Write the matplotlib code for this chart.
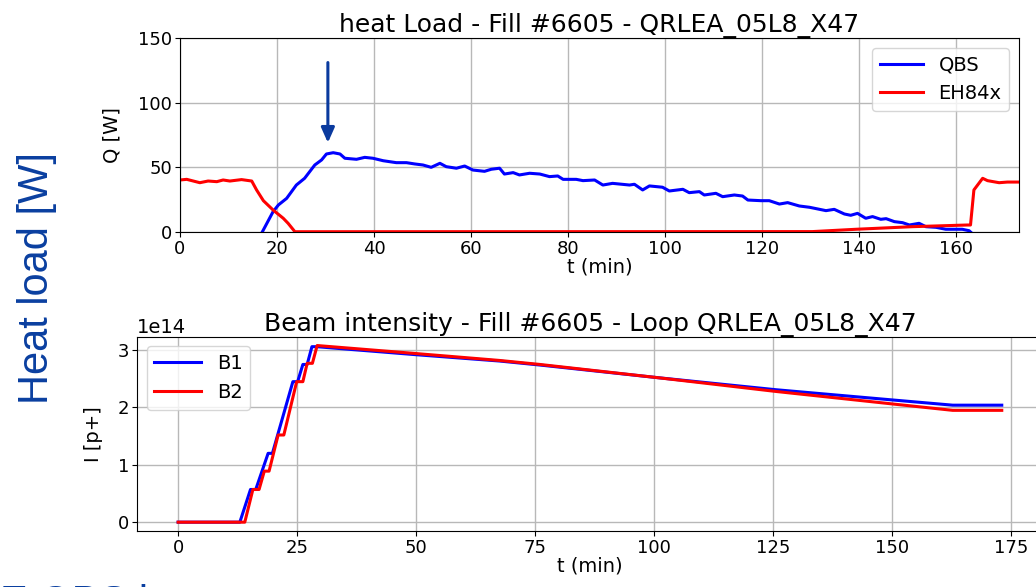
import matplotlib
matplotlib.use("Agg")
import matplotlib.pyplot as plt
import numpy as np

# ---------------- data ----------------
qbs_t = [17.0, 19.2, 20.3, 22.0, 24.0, 25.7, 27.8, 29.2, 30.2, 31.6, 33.0, 34.0, 36.4, 38.1,
         39.8, 41.9, 44.6, 46.7, 48.4, 50.1, 51.8, 53.6, 54.9, 57.0, 58.7, 60.4, 62.8, 64.2,
         65.9, 66.9, 68.7, 70.0, 72.1, 74.2, 76.2, 77.9, 79.0, 81.7, 83.1, 85.5, 87.2, 89.2,
         92.7, 93.7, 95.4, 96.8, 99.5, 100.9, 103.7, 105.0, 107.1, 108.1, 110.5, 111.9, 114.3,
         116.0, 117.1, 119.8, 121.5, 123.6, 125.3, 127.7, 129.8, 133.2, 134.9, 137.0, 138.3,
         139.7, 141.4, 142.8, 144.5, 145.6, 147.3, 149.0, 150.4, 152.4, 153.8, 155.9, 157.9,
         161.3, 162.7, 163.0]
qbs_q = [0.2, 15.7, 20.9, 26.0, 36.3, 41.5, 51.8, 55.7, 60.3, 61.3, 60.3, 57.0, 56.2, 57.7,
         57.0, 55.1, 53.6, 53.6, 52.6, 51.8, 50.0, 53.1, 50.5, 49.3, 51.0, 47.9, 46.9, 48.5,
         49.3, 44.8, 45.9, 44.1, 45.4, 44.8, 42.8, 43.3, 40.7, 40.7, 39.7, 40.2, 36.3, 37.6,
         36.3, 36.9, 32.5, 35.6, 34.6, 31.7, 33.0, 30.4, 31.2, 28.6, 29.9, 27.3, 28.6,
         27.8, 24.7, 24.2, 24.2, 21.6, 22.7, 20.1, 19.1, 16.5, 17.5, 13.9, 12.9,
         14.4, 10.6, 11.9, 9.8, 10.3, 8.0, 7.2, 5.4, 6.7, 4.1, 3.6, 2.1,
         2.1, 1.0, 0.0]

eh_t = [0.0, 1.4, 4.1, 5.8, 7.6, 8.9, 10.3, 12.7, 14.8, 15.8, 17.2, 19.2, 21.3, 22.3, 23.7,
        130.4, 139.4, 151.0, 162.4, 163.0, 163.7, 165.5, 166.5, 168.9, 170.6, 172.7]
eh_q = [40.2, 40.7, 38.1, 39.4, 38.9, 40.2, 39.4, 40.5, 39.4, 32.5, 24.2, 17.0, 10.6, 6.7, 0.2,
        0.3, 2.1, 4.1, 5.4, 5.4, 32.5, 41.5, 39.7, 38.1, 38.6, 38.6]

b1_t = [0.0, 12.96, 15.2, 16.3, 18.9, 19.8, 24.1, 25.1, 26.2, 27.1, 28.1, 29.1,
        50.0, 67.5, 76.0, 100.7, 125.5, 150.2, 162.7, 173.0]
b1_i = [0.0, 0.0, 0.57, 0.57, 1.20, 1.20, 2.45, 2.45, 2.75, 2.75, 3.06, 3.06,
        2.92, 2.81, 2.74, 2.52, 2.31, 2.13, 2.04, 2.04]

b2_t = [0.0, 14.0, 15.7, 17.0, 18.1, 19.1, 21.0, 22.2, 24.9, 26.2, 27.1, 28.2, 29.2,
        50.0, 67.5, 76.0, 100.7, 125.5, 150.2, 162.7, 173.0]
b2_i = [0.0, 0.0, 0.57, 0.57, 0.89, 0.89, 1.52, 1.52, 2.45, 2.45, 2.77, 2.77, 3.08,
        2.94, 2.82, 2.75, 2.52, 2.28, 2.06, 1.95, 1.95]

SCALE = 1e14

# arrow annotation (data coordinates of the top panel)
ARROW_X = 30.5
ARROW_Y_TAIL = 131.0
ARROW_Y_TIP = 69.0

TICK_FS = 13
LABEL_FS = 14
TITLE_FS = 18
LEGEND_FS = 14

# ---------------- figure ----------------
fig = plt.figure(figsize=(10.36, 5.87), dpi=100)

ax1 = fig.add_axes([0.1737, 0.6048, 0.8099, 0.3305])
ax1.plot(qbs_t, qbs_q, color='blue', lw=2.2, label='QBS')
ax1.plot(eh_t, eh_q, color='red', lw=2.2, label='EH84x')
ax1.set_xlim(0, 173)
ax1.set_ylim(0, 150)
ax1.set_yticks([0, 50, 100, 150])
ax1.set_xticks([0, 20, 40, 60, 80, 100, 120, 140, 160])
ax1.grid(True, color='#b8b8b8', lw=1)
ax1.set_xlabel('t (min)', fontsize=LABEL_FS, labelpad=0)
ax1.set_ylabel('Q [W]', fontsize=LABEL_FS, labelpad=12)
ax1.set_title('heat Load - Fill #6605 - QRLEA_05L8_X47', fontsize=TITLE_FS, pad=4)
ax1.tick_params(labelsize=TICK_FS, pad=2)
ax1.legend(loc='upper right', fontsize=LEGEND_FS, handlelength=2.2)
ax1.annotate('', xy=(ARROW_X, ARROW_Y_TIP), xytext=(ARROW_X, ARROW_Y_TAIL),
             arrowprops=dict(arrowstyle='-|>,head_width=0.4,head_length=0.9',
                             color='#0A3A9E', lw=2.2, shrinkA=0, shrinkB=0))

ax2 = fig.add_axes([0.1322, 0.0954, 0.8745, 0.331])
ax2.plot(b1_t, np.array(b1_i) * SCALE, color='blue', lw=2.2, label='B1')
ax2.plot(b2_t, np.array(b2_i) * SCALE, color='red', lw=2.2, label='B2')
ax2.set_xticks([0, 25, 50, 75, 100, 125, 150, 175])
ax2.grid(True, color='#b8b8b8', lw=1)
ax2.set_xlabel('t (min)', fontsize=LABEL_FS, labelpad=0)
ax2.set_ylabel('I [p+]', fontsize=LABEL_FS, labelpad=11)
ax2.set_title('Beam intensity - Fill #6605 - Loop QRLEA_05L8_X47', fontsize=TITLE_FS, pad=4)
ax2.tick_params(labelsize=TICK_FS, pad=2)
ax2.yaxis.get_offset_text().set_fontsize(LABEL_FS)
ax2.legend(loc='upper left', fontsize=LEGEND_FS, handlelength=2.4)

fig.text(0.036, 0.5256, 'Heat load [W]', rotation=90, ha='center', va='center',
         fontsize=30, color='#0A3FA0', family='Liberation Sans')
fig.text(0.0, -0.046, 'E QBS i', ha='left', va='baseline',
         fontsize=30, color='#0A3FA0', family='Liberation Sans')

fig.savefig('out.png', dpi=100)
